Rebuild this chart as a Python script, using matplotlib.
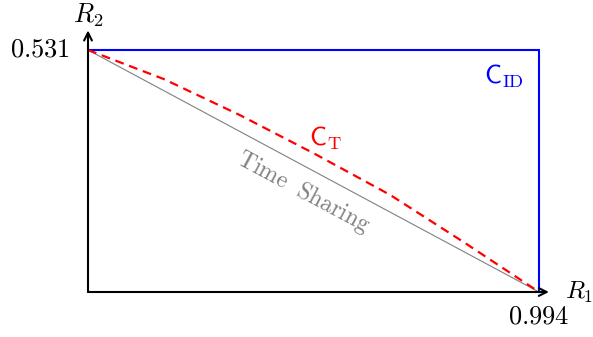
import numpy as np
import matplotlib
matplotlib.use("Agg")
import matplotlib.pyplot as plt

plt.rcParams['mathtext.fontset'] = 'cm'

# rate region corners
r1_max = 0.994
r2_max = 0.531

# C_T boundary
ct_r1 = [0.0, 0.1675, 0.335, 0.500, 0.666, 0.831, 0.994]
ct_r2 = [0.531, 0.467, 0.388, 0.303, 0.213, 0.1075, 0.0]

fig = plt.figure(figsize=(5.93, 3.37), dpi=100)
ax = fig.add_axes([0, 0, 1, 1])
ax.set_xlim(-0.19396, 1.1130)
ax.set_ylim(-0.09874, 0.6407)
ax.axis('off')

fs = 19

# C_ID box
ax.plot([0, r1_max, r1_max], [r2_max, r2_max, 0], color='#0000ff', lw=1.5, solid_joinstyle='miter')
# time sharing line
ax.plot([0, r1_max], [r2_max, 0], color='#808080', lw=0.8)
# C_T curve
ax.plot(ct_r1, ct_r2, color='#ff0000', lw=1.6, ls=(0, (4, 2.6)))

# axes arrows
ax.annotate('', xy=(r1_max * 1.022, 0), xytext=(0, 0),
            arrowprops=dict(arrowstyle='->', lw=1.5, color='black', shrinkA=0, shrinkB=0,
                            mutation_scale=14))
ax.annotate('', xy=(0, r2_max * 1.081), xytext=(0, 0),
            arrowprops=dict(arrowstyle='->', lw=1.5, color='black', shrinkA=0, shrinkB=0,
                            mutation_scale=14))

ax.annotate(r'$0.531$', xy=(0, r2_max), xytext=(-13, 0), textcoords='offset points',
            ha='right', va='center', fontsize=fs)
ax.annotate(r'$R_2$', xy=(0, r2_max), xytext=(0, 25), textcoords='offset points',
            ha='center', va='center', fontsize=fs)
ax.annotate(r'$0.994$', xy=(r1_max, 0), xytext=(0, -18), textcoords='offset points',
            ha='center', va='center', fontsize=fs)
ax.annotate(r'$R_1$', xy=(r1_max, 0), xytext=(19, 0), textcoords='offset points',
            ha='left', va='center', fontsize=fs - 1)
ax.annotate(r'$\mathsf{C}_{\mathrm{ID}}$', xy=(r1_max, r2_max), xytext=(-25, -19),
            textcoords='offset points', ha='center', va='center', fontsize=fs, color='#0000ff')
ax.text(0.522, 0.338, r'$\mathsf{C}_{\mathrm{T}}$', ha='center', va='center',
        fontsize=fs, color='#ff0000')
ax.text(0.474, 0.219, r'$\mathrm{Time\ \ Sharing}$', ha='center', va='center',
        fontsize=fs - 2, color='#808080', rotation=-28.2, rotation_mode='anchor')

fig.savefig('out.png', dpi=100)
